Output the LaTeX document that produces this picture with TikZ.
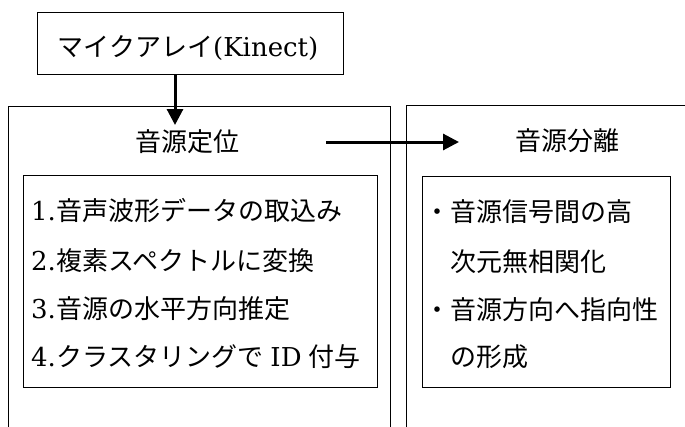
\documentclass[tikz,border=0pt]{standalone}
\usepackage{fontspec}
\setmainfont{DejaVu Serif}
\newfontfamily\jp{Noto Sans CJK JP}
\usetikzlibrary{arrows.meta}
\tikzset{
  box/.style={draw, line width=0.9pt},
  txt/.style={inner sep=0pt, anchor=west, font=\fontsize{26}{30}\selectfont},
  head/.style={inner sep=0pt, font=\fontsize{26}{30}\selectfont\jp},
  flow/.style={line width=3pt, -{Triangle[length=16pt,width=16pt]}},
}
\begin{document}
\begin{tikzpicture}[x=1pt,y=-1pt]
\useasboundingbox (0,0) rectangle (685,426);
% top box
\node[box, minimum width=306pt, minimum height=62pt, inner sep=0pt] (mic) at (190,43) {};
\node[inner sep=0pt, font=\fontsize{26}{30}\selectfont] (mictxt) at (188,48) {{\jp マイクアレイ}(Kinect)};
% big open boxes
\draw[box] (8,440) |- (390,106) -- (390,440);
\draw[box] (406,440) |- (700,105);
% headers
\node[head] (loc) at (187,142) {音源定位};
\node[head] (sep) at (567,141) {音源分離};
% inner boxes
\node[box, minimum width=354pt, minimum height=212pt, inner sep=0pt] (lin) at (200,281) {};
\node[box, minimum width=248pt, minimum height=211pt, inner sep=0pt] (rin) at (546,281.5) {};
% left list
\node[txt] (l1) at (31,211) {1.{\jp 音声波形データの取込み}};
\node[txt] (l2) at (31,261) {2.{\jp 複素スペクトルに変換}};
\node[txt] (l3) at (31,309) {3.{\jp 音源の水平方向推定}};
\node[txt] (l4) at (31,357) {4.{\jp クラスタリングで}\hspace{7pt}ID\hspace{7pt}{\jp 付与}};
% right list
\node[txt, font=\fontsize{26}{30}\selectfont\jp] (r1) at (424,212) {・音源信号間の高};
\node[txt, font=\fontsize{26}{30}\selectfont\jp] (r2) at (450,262) {次元無相関化};
\node[txt, font=\fontsize{26}{30}\selectfont\jp] (r3) at (424,310) {・音源方向へ指向性};
\node[txt, font=\fontsize{26}{30}\selectfont\jp] (r4) at (450,357) {の形成};
% arrows
\coordinate (a1) at (175,125);
\draw[flow] (mic.south -| a1) -- (a1);
\coordinate (a2s) at (326,142);
\coordinate (a2e) at (459,142);
\draw[flow] (a2s) -- (a2e);
\end{tikzpicture}
\end{document}
